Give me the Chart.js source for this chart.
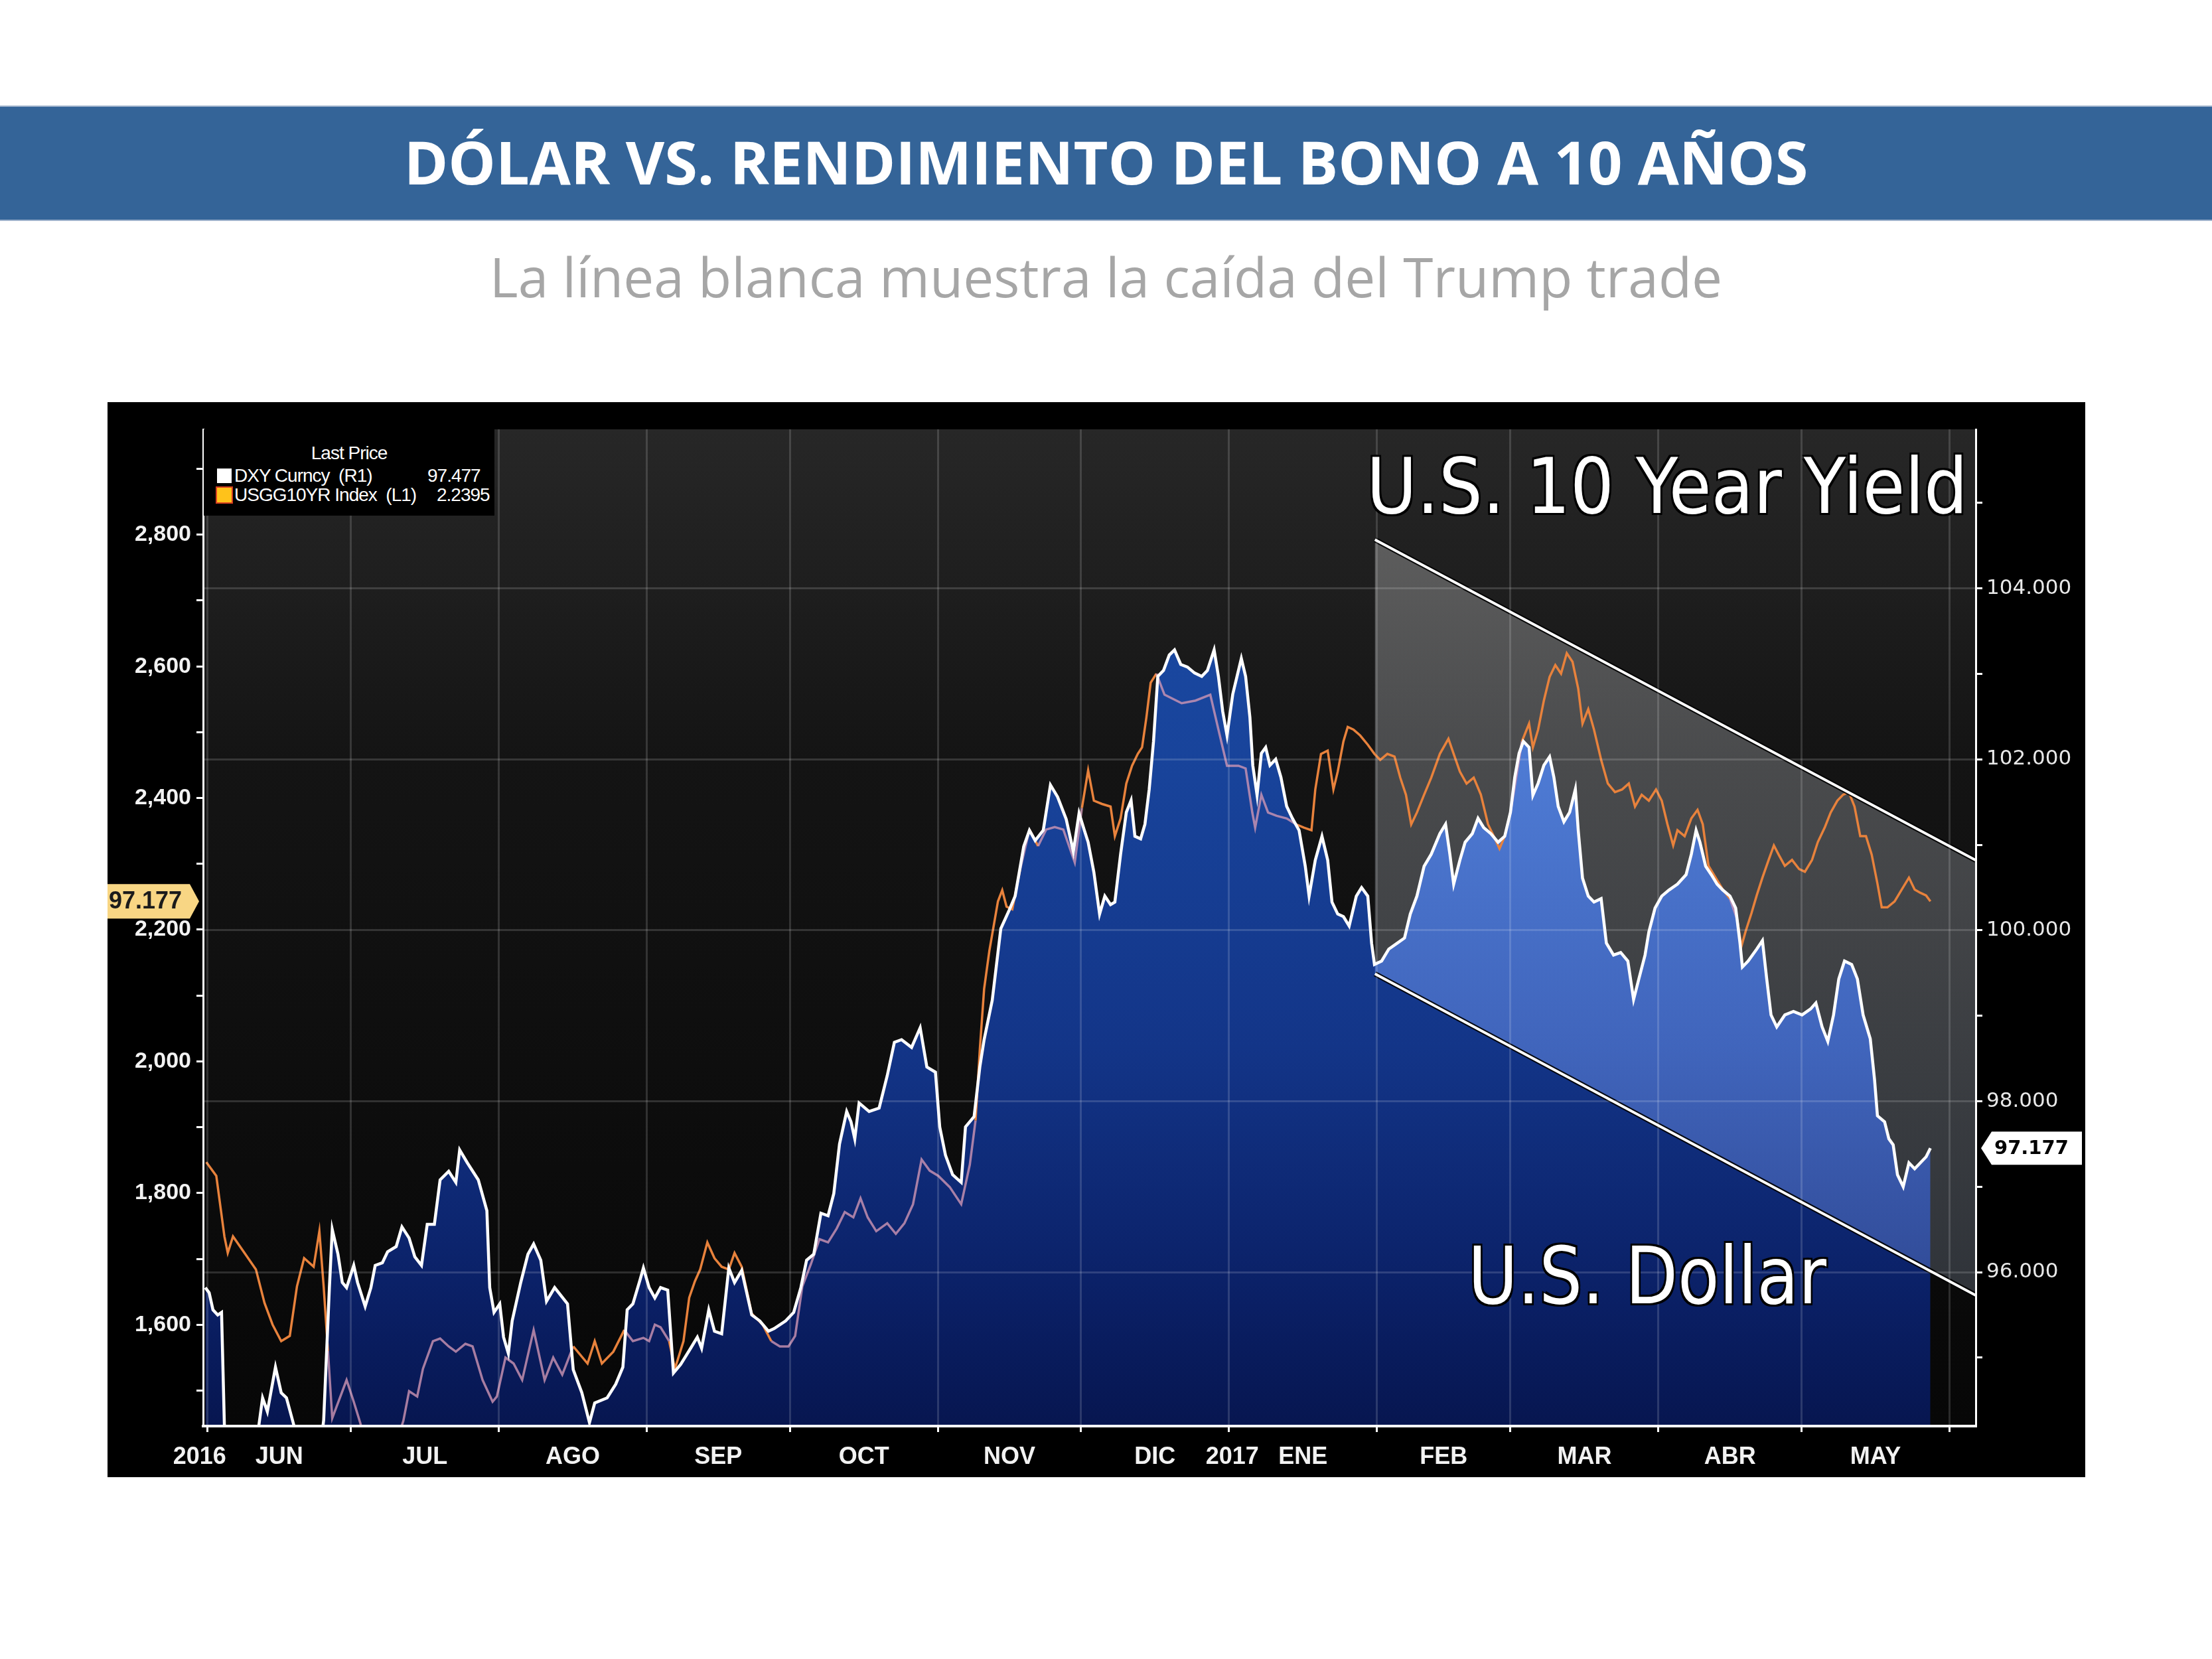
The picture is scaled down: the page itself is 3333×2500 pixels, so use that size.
<!DOCTYPE html>
<html><head><meta charset="utf-8">
<script src="https://cdn.jsdelivr.net/npm/chart.js@4.4.1/dist/chart.umd.min.js"></script>
<style>
html,body{margin:0;padding:0;background:#fff;}
body{width:3333px;height:2500px;position:relative;overflow:hidden;font-family:'Open Sans',sans-serif;}
#bar{position:absolute;left:0;top:159px;width:3333px;height:174px;background:#346498;border-top:2px solid #9fb3cc;border-bottom:2px solid #9fb3cc;box-sizing:border-box;}
#title{position:absolute;left:0;width:3333px;top:182px;text-align:center;color:#fff;font-weight:700;font-size:90px;line-height:normal;white-space:nowrap;}
#subtitle{position:absolute;left:0;width:3333px;top:360px;text-align:center;color:#a6a6a6;font-size:82px;line-height:normal;white-space:nowrap;}
#box{position:absolute;left:162px;top:606px;width:2980px;height:1620px;background:#000;}
canvas{display:block;}
.ann{position:absolute;color:#fff;font-family:'DejaVu Sans',sans-serif;white-space:nowrap;line-height:1;transform-origin:0 0;
 text-shadow:0 0 4px #000,3px 3px 0 #000,-3px -3px 0 #000,3px -3px 0 #000,-3px 3px 0 #000;}
#legend{position:absolute;left:307px;top:647px;width:438px;height:130px;background:#000;color:#fff;font-family:'Liberation Sans',sans-serif;font-size:28px;letter-spacing:-1px;}
#legend div{position:absolute;line-height:28px;white-space:nowrap;}
.sq{width:22px;height:22px;}
</style></head>
<body>
<div id="bar"></div>
<div id="title">DÓLAR VS. RENDIMIENTO DEL BONO A 10 AÑOS</div>
<div id="subtitle">La línea blanca muestra la caída del Trump trade</div>
<div id="box"><canvas id="c" width="2980" height="1620"></canvas></div>
<div id="legend">
  <div style="left:0;width:438px;top:22px;text-align:center;">Last Price</div>
  <div class="sq" style="left:20px;top:59px;background:#fff;"></div>
  <div style="left:46px;top:56px;">DXY Curncy&nbsp;&nbsp;(R1)</div>
  <div style="left:337px;top:56px;">97.477</div>
  <div class="sq" style="left:20px;top:88px;background:#ffc21a;box-shadow:0 0 0 2px #d84020;"></div>
  <div style="left:46px;top:85px;">USGG10YR Index&nbsp;&nbsp;(L1)</div>
  <div style="left:351px;top:85px;">2.2395</div>
</div>
<div id="annYield" class="ann" style="left:2059px;top:675px;font-size:116px;">U.S. 10 Year Yield</div>
<div id="annDollar" class="ann" style="left:2212px;top:1864px;font-size:119px;">U.S. Dollar</div>
<script>
// ---------- DATA ----------
// x values: days since 1 Jun 2016
const dxyDays = [-0.5,0.3,1.1,2.1,2.9,3.5,5,7,9,10.7,
11.5,12.5,14.2,15.4,16.5,18.1,20,22,23.5,24.3,
25.5,26.1,27.3,28.2,29.1,30.6,31.4,33,34.2,35.1,
36.6,37.7,39.5,40.7,42.2,43.4,44.8,46,47.5,48.7,
50.5,52,52.8,54.4,56.7,58.5,59.1,60,61.2,62,
63,63.8,65.6,67.1,68.3,69.8,71,72.7,75.4,76.6,
78.4,80,81.1,83.7,85.5,87,87.9,89.1,90.6,91.3,
92.5,93.7,94.9,96.4,97.6,99.1,101.2,102.6,103.5,105,
106.2,107.7,109.2,110.4,111.9,114,115.7,117.5,118.7,121.1,
122.8,124.3,125.5,127,128.5,130,131.2,132.4,133.9,134.8,
135.6,136.5,138.6,140.7,142.4,143.9,145.4,147.5,149.3,150.7,
152.5,153.4,154.6,156.1,157.9,158.8,160.6,161.8,162.7,164.4,
166.2,168,169.2,171,172.2,173.4,175.1,176.6,178.1,179.9,
181.4,182.6,183.7,184.5,185.7,186.9,188,189.2,190.1,191.3,
192.5,193.5,194.3,195.5,196.4,197.3,198.2,199.1,200.3,201.5,
202.6,203.9,205.3,206.8,208.3,209.5,210.9,211.8,212.7,213.6,
214.8,215.7,216.6,217.5,218.4,219,219.9,220.8,221.7,222.6,
223.8,224.9,226.1,227.3,228.7,230,230.8,232.1,233.5,234.7,
235.6,236.8,238,239.2,240.7,241.8,243.1,243.9,244.5,246,
247.5,249.3,250.8,252,253.4,254.9,256.4,258.2,259.4,260.3,
261.1,262.4,263.5,265,266.2,267.4,268.9,270.4,271.8,273,
273.9,274.8,275.7,276.9,277.7,278.8,280,281.2,282.1,283,
284.2,285.4,286.6,287.2,288.1,289.3,290.5,292,293.1,294.6,
296.1,297.6,298.8,299.9,301.2,302,303.3,304.7,306.2,308,
309.8,310.9,311.9,312.7,313.9,315.1,316.3,317.5,319,320.2,
321.1,321.6,322.8,324.6,325.8,326.7,327.6,328.8,330.5,332.3,
334.1,335.9,337,338.3,339.5,340.7,341.8,343,344.5,345.7,
346.9,348.4,349.3,349.9,351.4,352.3,353.2,354.1,355.3,356.5,
357.7,358.9,360.1,361];
const dxyVals = [95.82,95.76,95.56,95.50,95.53,94.20,93.95,93.75,93.95,94.20,
94.53,94.37,94.89,94.59,94.53,94.20,93.85,93.70,93.90,94.27,
95.82,96.50,96.21,95.88,95.82,96.08,95.88,95.60,95.82,96.08,
96.11,96.24,96.30,96.53,96.40,96.18,96.08,96.56,96.56,97.08,
97.18,97.05,97.43,97.28,97.08,96.72,95.82,95.53,95.63,95.24,
95.05,95.43,95.88,96.21,96.33,96.14,95.66,95.82,95.63,94.86,
94.59,94.24,94.47,94.53,94.69,94.89,95.56,95.63,95.91,96.05,
95.82,95.70,95.82,95.79,94.82,94.92,95.11,95.24,95.11,95.56,
95.31,95.28,96.05,95.88,96.02,95.50,95.43,95.31,95.34,95.43,
95.53,95.82,96.14,96.21,96.69,96.66,96.92,97.50,97.88,97.76,
97.56,97.98,97.88,97.92,98.30,98.69,98.72,98.63,98.86,98.40,
98.34,97.70,97.37,97.14,97.05,97.70,97.82,98.40,98.72,99.18,
100.02,100.24,100.40,100.98,101.17,101.05,101.17,101.70,101.56,101.30,
100.92,101.37,101.17,101.03,100.68,100.19,100.40,100.30,100.33,100.89,
101.38,101.52,101.10,101.07,101.24,101.65,102.21,102.97,103.04,103.22,
103.28,103.11,103.08,103.01,102.97,103.04,103.28,102.97,102.56,102.28,
102.76,102.97,103.18,102.97,102.49,101.93,101.58,102.07,102.14,101.93,
102.00,101.79,101.45,101.31,101.17,100.75,100.40,100.82,101.10,100.82,
100.33,100.19,100.16,100.05,100.40,100.50,100.40,99.85,99.60,99.64,
99.78,99.85,99.91,100.19,100.40,100.75,100.89,101.13,101.24,100.89,
100.54,100.82,101.03,101.13,101.31,101.20,101.13,101.03,101.10,101.38,
101.79,102.07,102.21,102.14,101.58,101.72,101.93,102.03,101.79,101.45,
101.27,101.38,101.65,101.17,100.61,100.40,100.33,100.37,99.85,99.71,
99.74,99.64,99.19,99.43,99.71,99.98,100.26,100.40,100.47,100.54,
100.65,100.89,101.17,101.03,100.75,100.65,100.54,100.47,100.40,100.26,
99.85,99.57,99.64,99.78,99.88,99.43,99.01,98.87,99.01,99.05,
99.01,99.08,99.15,98.87,98.70,99.01,99.43,99.64,99.60,99.43,
99.01,98.73,98.25,97.83,97.76,97.56,97.49,97.14,97.00,97.28,
97.21,97.28,97.35,97.45];

const yldDays = [-0.3,1.8,3.5,4.2,5.3,7.7,10.1,11.9,13.6,15.4,
17.2,18.7,20.2,22.2,23.4,24.3,25.2,26.1,29.1,30.6,
32,34,36,38,39.5,41,42.2,43.9,45.1,47.2,
48.7,50.5,52,54,55.5,57.6,59.7,60.6,62.4,64.1,
65.9,68.3,70.6,72.4,74.3,76.6,79.6,81.1,82.6,85,
87.3,89.1,91.3,92.5,93.7,94.9,96.7,97.9,99.7,100.9,
102.1,103.2,104.7,106.2,107.7,109.2,110.4,111.9,114,116.3,
118.1,119.9,121.7,123.1,124.6,126.4,128.2,130,131.8,133.5,
135.3,136.8,138.3,140.1,142.4,144.2,146,147.8,149.6,151.3,
153.1,155.5,157.9,159.7,160.9,161.8,162.7,163.8,165.6,166.5,
167.4,168.6,170.3,172.2,174,175.7,177.5,179.3,181.7,183.2,
184.5,185.7,187.4,189.2,190.1,191.3,192.5,193.7,194.9,195.8,
196.7,197.6,198.8,200.5,204.1,207,210.1,211.8,213.6,216,
217.5,218.9,219.5,220.8,222.2,224,226.1,228.1,229.7,231.3,
232.1,233.3,234.7,235.9,236.8,238,238.9,240.1,241.5,243.1,
244.5,245.7,247.2,248.7,249.9,251.1,252.2,253.4,254.9,256.4,
258.2,260,261.1,262.4,263.8,265.3,266.8,268.3,269.5,270.7,
271.8,273,274.2,275.4,276.9,277.7,278.8,280,281.2,282.4,
283.6,284.8,286,287.2,288.1,289.3,290.5,292,293.4,294.9,
296.4,297.8,299.1,300.5,302,303.5,304.7,305.9,307.1,308,
309.5,310.9,312.2,313.3,314.5,316,317.5,319,320.5,321.4,
322.3,323.5,324.6,325.8,327.1,328.2,329.2,330.5,332,333.5,
334.7,336.2,337.4,338.9,340.1,341.5,342.7,343.9,345.1,346.3,
347.5,348.7,349.9,350.8,352,353.5,355,356.5,357.7,358.9,
360.1,361];
const yldVals = [1847,1826,1734,1709,1734,1709,1684,1633,1600,1575,
1583,1658,1701,1688,1742,1658,1560,1458,1516,1483,
1450,1390,1405,1365,1420,1454,1499,1491,1533,1575,
1579,1567,1559,1571,1567,1516,1483,1491,1550,1541,
1516,1592,1516,1550,1524,1567,1541,1575,1541,1559,
1592,1575,1580,1575,1600,1596,1575,1533,1575,1641,
1666,1684,1725,1701,1688,1684,1709,1688,1617,1600,
1575,1567,1567,1583,1658,1692,1730,1725,1746,1771,
1763,1792,1763,1742,1754,1738,1754,1783,1851,1834,
1826,1809,1783,1843,1910,2018,2110,2168,2243,2260,
2235,2231,2293,2352,2327,2352,2356,2352,2302,2385,
2442,2396,2391,2387,2342,2369,2422,2449,2467,2477,
2522,2575,2589,2557,2544,2548,2557,2504,2449,2449,
2445,2378,2355,2405,2378,2373,2369,2360,2355,2351,
2413,2467,2472,2413,2440,2486,2508,2504,2495,2481,
2467,2458,2467,2463,2431,2405,2360,2378,2405,2431,
2467,2490,2467,2440,2422,2431,2405,2360,2342,2323,
2342,2378,2431,2486,2513,2477,2504,2548,2584,2602,
2589,2620,2607,2566,2513,2535,2504,2458,2422,2409,
2413,2422,2387,2405,2396,2413,2396,2360,2328,2351,
2342,2369,2382,2360,2297,2279,2261,2247,2216,2175,
2198,2225,2252,2279,2306,2328,2314,2297,2306,2292,
2288,2306,2333,2356,2378,2396,2405,2409,2387,2342,
2342,2314,2270,2234,2234,2243,2261,2279,2261,2256,
2252,2243];

// axes
const xMin = -0.97, xMax = 370.5;
const yLeftMin = 1446, yLeftMax = 2960;
const yRightMin = 94.2, yRightMax = 105.86;
const monthStartDays = [0,30,61,92,122,153,183,214,245,273,304,334,365];
const xLabelDays = [-1.7,15,45.5,76.5,107,137.5,168,198.5,214.7,229.5,259,288.5,319,349.5];
const xLabelTexts = ['2016','JUN','JUL','AGO','SEP','OCT','NOV','DIC','2017','ENE','FEB','MAR','ABR','MAY'];
// trend channel (DXY units)
const channelX = [244.6, 370.5];
const channelUpper = [104.57, 100.82];
const channelLower = [99.49, 95.73];
const tagText = '97.177';

// ---------- helpers ----------
const ORANGE = '#e8823c';
const PINK = 'rgba(208,150,180,0.8)';
function dxyAt(x){
  if (x < dxyDays[0] || x > dxyDays[dxyDays.length-1]) return null;
  for (let i=1;i<dxyDays.length;i++){
    if (dxyDays[i] >= x){
      const t = (x-dxyDays[i-1])/(dxyDays[i]-dxyDays[i-1]);
      return dxyVals[i-1] + t*(dxyVals[i]-dxyVals[i-1]);
    }
  }
  return null;
}
const GRID = 'rgba(255,255,255,0.15)';
const NONE = 'rgba(0,0,0,0)';

const bgPlugin = {
  id:'bg',
  beforeDraw(chart){
    const {ctx, chartArea:a} = chart;
    const g = ctx.createLinearGradient(0,a.top,0,a.bottom);
    g.addColorStop(0,'#272727'); g.addColorStop(0.16,'#1e1e1e');
    g.addColorStop(0.33,'#141414'); g.addColorStop(1,'#070707');
    ctx.save(); ctx.fillStyle = g;
    ctx.fillRect(a.left,a.top,a.right-a.left,a.bottom-a.top); ctx.restore();
  }
};
function channelPts(chart){
  const xs = chart.scales.x, ys = chart.scales.yR;
  return {
    x0: xs.getPixelForValue(channelX[0]), x1: xs.getPixelForValue(channelX[1]),
    u0: ys.getPixelForValue(channelUpper[0]), u1: ys.getPixelForValue(channelUpper[1]),
    l0: ys.getPixelForValue(channelLower[0]), l1: ys.getPixelForValue(channelLower[1])
  };
}
const channelPlugin = {
  id:'channel',
  beforeDatasetsDraw(chart){
    const {ctx, chartArea:a} = chart; const p = channelPts(chart);
    ctx.save();
    ctx.beginPath(); ctx.rect(a.left,a.top,a.right-a.left,a.bottom-a.top); ctx.clip();
    ctx.globalCompositeOperation = 'lighter';
    const g = ctx.createLinearGradient(0,p.u0,0,p.l1);
    g.addColorStop(0,'rgb(60,60,60)'); g.addColorStop(1,'rgb(38,42,48)');
    ctx.fillStyle = g;
    ctx.beginPath(); ctx.moveTo(p.x0,p.u0); ctx.lineTo(p.x1,p.u1); ctx.lineTo(p.x1,p.l1); ctx.lineTo(p.x0,p.l0); ctx.closePath(); ctx.fill();
    ctx.restore();
  },
  afterDatasetsDraw(chart){
    const {ctx, chartArea:a} = chart; const p = channelPts(chart);
    ctx.save();
    ctx.beginPath(); ctx.rect(a.left,a.top,a.right-a.left,a.bottom-a.top); ctx.clip();
    [[p.u0,p.u1],[p.l0,p.l1]].forEach(([y0,y1])=>{
      ctx.beginPath(); ctx.moveTo(p.x0,y0); ctx.lineTo(p.x1,y1);
      ctx.strokeStyle='rgba(0,0,0,0.9)'; ctx.lineWidth=8; ctx.stroke();
      ctx.strokeStyle='#ffffff'; ctx.lineWidth=4; ctx.stroke();
    });
    ctx.restore();
  }
};
const tagPlugin = {
  id:'tags',
  afterDraw(chart){
    const ctx = chart.ctx;
    const yl = chart.scales.y.getPixelForValue(yldVals[yldVals.length-1]);
    const yr = chart.scales.yR.getPixelForValue(dxyVals[dxyVals.length-1]);
    ctx.save();
    ctx.fillStyle = '#f8d684';
    ctx.beginPath(); ctx.moveTo(0,yl-26); ctx.lineTo(124,yl-26); ctx.lineTo(138,yl); ctx.lineTo(124,yl+26); ctx.lineTo(0,yl+26); ctx.closePath(); ctx.fill();
    ctx.fillStyle = '#1b1b1b'; ctx.font = 'bold 36px "Liberation Sans"'; ctx.textBaseline='middle'; ctx.textAlign='left';
    ctx.fillText(tagText, 2, yl+1);
    const xl = chart.chartArea.right + 8;
    ctx.fillStyle = '#ffffff';
    ctx.beginPath(); ctx.moveTo(xl,yr); ctx.lineTo(xl+16,yr-25); ctx.lineTo(2975,yr-25); ctx.lineTo(2975,yr+25); ctx.lineTo(xl+16,yr+25); ctx.closePath(); ctx.fill();
    ctx.fillStyle = '#000'; ctx.font = 'bold 29px "DejaVu Sans"';
    ctx.fillText(tagText, 2843, yr+1);
    ctx.restore();
  }
};

const xTicks = monthStartDays.map(v=>({value:v, kind:'grid', text:''}))
  .concat(xLabelDays.map((v,i)=>({value:v, kind:'label', text:xLabelTexts[i]})))
  .sort((a,b)=>a.value-b.value);

new Chart(document.getElementById('c'), {
  type:'line',
  data:{
    datasets:[
      {
        label:'DXY Curncy (R1)',
        data: dxyDays.map((d,i)=>({x:d,y:dxyVals[i]})),
        yAxisID:'yR', xAxisID:'x',
        borderColor:'#ffffff', borderWidth:4.5, pointRadius:0, tension:0,
        fill:'start', clip:2,
        backgroundColor:(c)=>{
          const ch = c.chart, a = ch.chartArea;
          if (!a) return 'rgb(22,62,150)';
          const g = ch.ctx.createLinearGradient(0,a.top,0,a.bottom);
          g.addColorStop(0,'rgb(28,78,168)');
          g.addColorStop(0.35,'rgb(24,67,154)');
          g.addColorStop(0.62,'rgb(19,53,136)');
          g.addColorStop(0.76,'rgb(14,41,117)');
          g.addColorStop(0.88,'rgb(10,31,100)');
          g.addColorStop(1,'rgb(7,22,80)');
          return g;
        }
      },
      {
        label:'USGG10YR Index (L1)',
        data: yldDays.map((d,i)=>({x:d,y:yldVals[i]})),
        yAxisID:'y', xAxisID:'x',
        borderColor:ORANGE, borderWidth:3.5, pointRadius:0, tension:0, fill:false, clip:2,
        segment:{
          borderColor:(c)=>{
            const i0 = c.p0DataIndex, i1 = c.p1DataIndex;
            const xm = (yldDays[i0]+yldDays[i1])/2, vm = (yldVals[i0]+yldVals[i1])/2;
            const d = dxyAt(xm);
            if (d === null) return ORANGE;
            const fy = (vm-yLeftMin)/(yLeftMax-yLeftMin);
            const fd = (d-yRightMin)/(yRightMax-yRightMin);
            return fy < fd - 0.004 ? PINK : ORANGE;
          }
        }
      }
    ]
  },
  options:{
    responsive:false, animation:false, devicePixelRatio:1,
    layout:{padding:{top:41,left:0,right:0,bottom:0}},
    plugins:{legend:{display:false}, tooltip:{enabled:false}, filler:{drawTime:'beforeDatasetsDraw', propagate:false}},
    scales:{
      x:{
        type:'linear', position:'bottom', min:xMin, max:xMax,
        afterBuildTicks:(axis)=>{ axis.ticks = xTicks.map(t=>({value:t.value, kind:t.kind, text:t.text})); },
        afterFit:(s)=>{ s.height = 77; },
        grid:{z:1, lineWidth:3, drawTicks:true, tickLength:9, tickWidth:3,
          color:(c)=> (c.tick && c.tick.kind==='grid') ? GRID : NONE,
          tickColor:(c)=> (c.tick && c.tick.kind==='grid') ? '#ffffff' : NONE},
        border:{display:true, color:'#ffffff', width:4, z:2},
        ticks:{autoSkip:false, maxRotation:0, minRotation:0, padding:16, color:'#f2f2f2',
          font:{family:'Liberation Sans', size:36, weight:'bold'},
          callback:(v,i,t)=> t[i] && t[i].kind==='label' ? t[i].text : ''}
      },
      y:{
        type:'linear', position:'left', min:yLeftMin, max:yLeftMax,
        afterFit:(s)=>{ s.width = 144; },
        grid:{drawOnChartArea:false, drawTicks:true, tickLength:10, tickWidth:3, tickColor:'#ffffff'},
        border:{display:true, color:'#ffffff', width:3, z:2},
        ticks:{stepSize:100, includeBounds:false, autoSkip:false, padding:8, color:'#f2f2f2',
          font:{family:'Liberation Sans', size:34, weight:'bold'},
          callback:(v)=> (Math.round(v)%200===0) ? Math.round(v).toLocaleString('en-US') : ''}
      },
      yR:{
        type:'linear', position:'right', min:yRightMin, max:yRightMax,
        afterFit:(s)=>{ s.width = 165; },
        grid:{z:1, lineWidth:3, drawTicks:true, tickLength:10, tickWidth:3, tickColor:'#ffffff',
          color:(c)=> (c.tick && Math.round(c.tick.value)%2===0) ? GRID : NONE},
        border:{display:true, color:'#ffffff', width:3, z:2},
        ticks:{stepSize:1, includeBounds:false, autoSkip:false, padding:6, color:'#e8e8e8',
          font:{family:'DejaVu Sans', size:31},
          callback:(v)=> (Math.round(v)%2===0) ? v.toFixed(3) : ''}
      }
    }
  },
  plugins:[bgPlugin, channelPlugin, tagPlugin]
});

function fit(id, targetW){
  const el = document.getElementById(id);
  el.style.transform = 'none';
  const w = el.getBoundingClientRect().width;
  el.style.transform = 'scaleX(' + (targetW / w) + ')';
}
fit('annYield', 906);
fit('annDollar', 540);
</script>
</body></html>
